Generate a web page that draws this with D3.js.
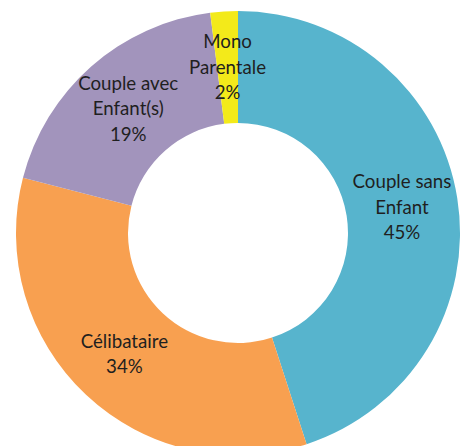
<!DOCTYPE html>
<html>
<head>
<meta charset="utf-8">
<script src="https://cdn.jsdelivr.net/npm/d3@7"></script>
<style>
  html, body { margin: 0; padding: 0; background: #fff; }
  svg { display: block; }
  .lbl { font-family: Lato, "Open Sans", sans-serif; font-size: 18.7px; fill: #1f1f1f; }
</style>
</head>
<body>
<svg id="chart" width="466" height="446"></svg>
<script>
// data
const categories = ["Couple sans Enfant", "Célibataire", "Couple avec Enfant(s)", "Mono Parentale"]
const labelLines = [["Couple sans", "Enfant"], ["Célibataire"], ["Couple avec", "Enfant(s)"], ["Mono", "Parentale"]]
const shares = [45, 34, 19, 2]
const colors = ["#57b4cd", "#f8a050", "#a294bc", "#f3ea1a"]

const width = 466, height = 446
const cx = 238, cy = 233
const outerR = 222, innerR = 110

const svg = d3.select("#chart")
const g = svg.append("g").attr("transform", "translate(" + cx + "," + cy + ")")

const pie = d3.pie().sort(null).value(d => d.value)
const arc = d3.arc().innerRadius(innerR).outerRadius(outerR)

const slices = pie(categories.map((c, i) => ({ name: c, value: shares[i], idx: i })))

g.selectAll("path")
  .data(slices)
  .enter()
  .append("path")
  .attr("d", arc)
  .attr("fill", d => colors[d.data.idx])

// labels at the ring centroid, lines stacked
const lineH = 25.5
slices.forEach(d => {
  const [x, y] = arc.centroid(d)
  const lines = labelLines[d.data.idx].concat([d.data.value + "%"])
  const top = y - (lines.length - 1) * lineH / 2
  const t = g.append("text")
    .attr("class", "lbl")
    .attr("text-anchor", "middle")
  lines.forEach((ln, k) => {
    t.append("tspan")
      .attr("x", x)
      .attr("y", top + k * lineH)
      .attr("dy", "0.35em")
      .text(ln)
  })
})
</script>
</body>
</html>
